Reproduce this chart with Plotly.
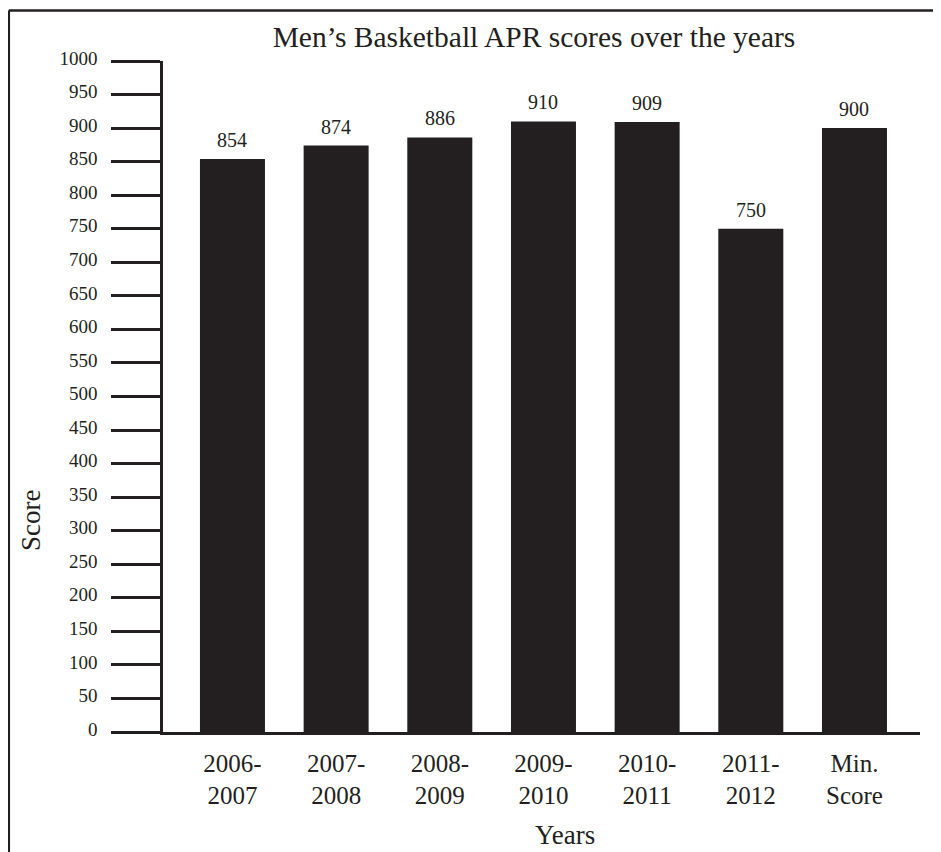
import plotly.graph_objects as go

categories = ["2006-<br>2007", "2007-<br>2008", "2008-<br>2009", "2009-<br>2010",
              "2010-<br>2011", "2011-<br>2012", "Min.<br>Score"]
scores = [854, 874, 886, 910, 909, 750, 900]
y_ticks = list(range(0, 1001, 50))

INK = "#231f20"
FONT = "Liberation Serif"

# page body adds an 8px margin, so the figure is sized to fill the window exactly
W, H = 933, 844
L, R, T, B = 155, 21, 53, 120
PW, PH = W - L - R, H - T - B


def px(xp):
    return (xp - L) / PW


def py(yp):
    return (H - B - yp) / PH


fig = go.Figure()
fig.add_trace(go.Bar(
    x=list(range(len(categories))),
    y=scores,
    width=0.627,
    marker=dict(color=INK, line=dict(width=0)),
    hoverinfo="skip",
))

for i, v in enumerate(scores):
    fig.add_annotation(x=i, y=v, text=str(v), showarrow=False,
                       yanchor="bottom", yshift=6,
                       font=dict(family=FONT, size=20, color=INK))

# axis titles
fig.add_annotation(text="Years", xref="paper", yref="paper",
                   x=px(557), y=py(827),
                   showarrow=False, xanchor="center", yanchor="middle",
                   font=dict(family=FONT, size=27, color=INK))
fig.add_annotation(text="Score", xref="paper", yref="paper",
                   x=px(23), y=py(513), textangle=-90,
                   showarrow=False, xanchor="center", yanchor="middle",
                   font=dict(family=FONT, size=27, color=INK))

# frame lines (top and left)
fig.add_shape(type="line", xref="paper", yref="paper",
              x0=px(0.8), x1=px(W + 5), y0=py(2.5), y1=py(2.5),
              line=dict(color=INK, width=2.5))
fig.add_shape(type="line", xref="paper", yref="paper",
              x0=px(0.8), x1=px(0.8), y0=py(2.5), y1=py(H + 5),
              line=dict(color=INK, width=2.5))

fig.update_layout(
    width=W, height=H,
    margin=dict(l=L, r=R, t=T, b=B),
    paper_bgcolor="white", plot_bgcolor="white",
    showlegend=False,
    title=dict(text="Men’s Basketball APR scores over the years",
               x=526 / W, xanchor="center", xref="container",
               y=1 - 29 / H, yanchor="middle",
               font=dict(family=FONT, size=29.5, color=INK)),
    font=dict(family=FONT, color=INK),
    xaxis=dict(
        range=[-0.67, 6.632],
        tickmode="array",
        tickvals=list(range(len(categories))),
        ticktext=categories,
        showline=True, linecolor=INK, linewidth=2.5,
        ticks="", showgrid=False, zeroline=False,
        tickfont=dict(family=FONT, size=25, color=INK),
        ticklabelstandoff=7,
    ),
    yaxis=dict(
        range=[0, 1000],
        tickmode="array",
        tickvals=y_ticks,
        ticktext=[str(t) for t in y_ticks],
        showline=True, linecolor=INK, linewidth=2.5,
        ticks="outside", ticklen=49, tickwidth=3, tickcolor=INK,
        showgrid=False, zeroline=False,
        tickfont=dict(family=FONT, size=19, color=INK),
        ticklabelstandoff=10,
        ticklabelshift=-3,
    ),
)

fig.write_html("out.html")
